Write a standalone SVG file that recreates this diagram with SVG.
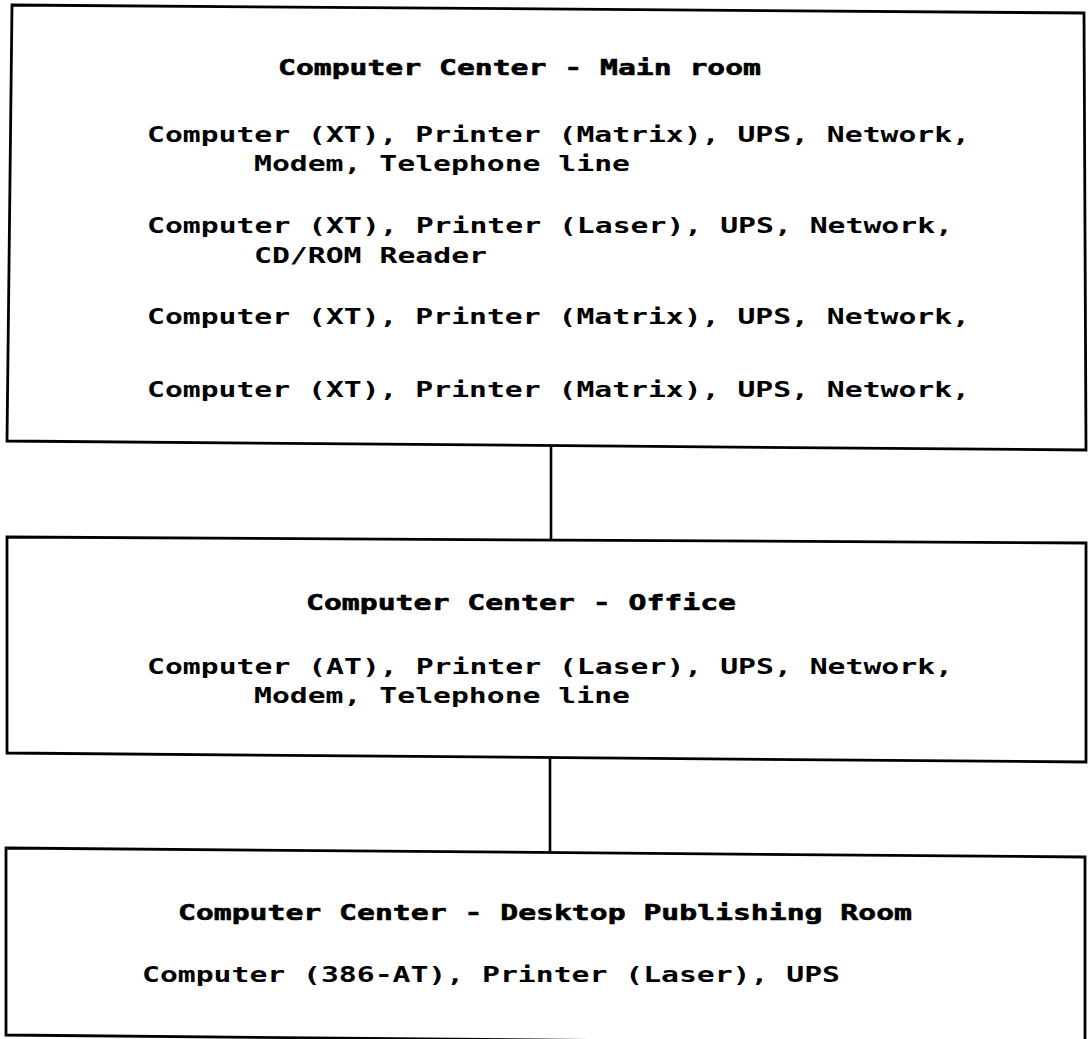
<svg xmlns="http://www.w3.org/2000/svg" width="1088" height="1039" viewBox="0 0 1088 1039">
  <style>
    .box { fill: none; stroke: #000; stroke-width: 2.8; stroke-linejoin: miter; }
    .link { fill: none; stroke: #000; stroke-width: 2.6; }
    text { font-family: "DejaVu Sans Mono", "Liberation Mono", monospace; font-size: 22px; font-weight: bold; fill: #000; }
    .head { stroke: #000; stroke-width: 0.6; }
  </style>
  <rect x="0" y="0" width="1088" height="1039" fill="#fff"/>

  <!-- connectors between rooms -->
  <g id="connectors">
    <line class="link" x1="551" y1="446" x2="551" y2="540"/>
    <line class="link" x1="550" y1="757" x2="550" y2="853"/>
  </g>

  <!-- printer-style type: fixed 17.9px cells, glyphs stretched to fill -->
  <g id="main-room">
    <path class="box" d="M12,5 L1084,13 L1086,450 L7,441 Z"/>
    <text class="head" x="278" y="75" textLength="483" lengthAdjust="spacingAndGlyphs">Computer Center - Main room</text>
    <text x="147" y="142" textLength="823" lengthAdjust="spacingAndGlyphs">Computer (XT), Printer (Matrix), UPS, Network,</text>
    <text x="254" y="171" textLength="376" lengthAdjust="spacingAndGlyphs">Modem, Telephone line</text>
    <text x="147" y="233" textLength="806" lengthAdjust="spacingAndGlyphs">Computer (XT), Printer (Laser), UPS, Network,</text>
    <text x="254" y="263" textLength="233" lengthAdjust="spacingAndGlyphs">CD/ROM Reader</text>
    <text x="147" y="324" textLength="823" lengthAdjust="spacingAndGlyphs">Computer (XT), Printer (Matrix), UPS, Network,</text>
    <text x="147" y="397" textLength="823" lengthAdjust="spacingAndGlyphs">Computer (XT), Printer (Matrix), UPS, Network,</text>
  </g>

  <g id="office">
    <path class="box" d="M7,537 L1086,543 L1086,762 L7,753 Z"/>
    <text class="head" x="306" y="610" textLength="430" lengthAdjust="spacingAndGlyphs">Computer Center - Office</text>
    <text x="147" y="674" textLength="806" lengthAdjust="spacingAndGlyphs">Computer (AT), Printer (Laser), UPS, Network,</text>
    <text x="254" y="703" textLength="376" lengthAdjust="spacingAndGlyphs">Modem, Telephone line</text>
  </g>

  <g id="desktop-publishing">
    <path class="box" d="M6,848 L1085,857 L1085,1045 L6,1035 Z"/>
    <text class="head" x="178" y="920" textLength="734" lengthAdjust="spacingAndGlyphs">Computer Center - Desktop Publishing Room</text>
    <text x="142" y="982" textLength="698" lengthAdjust="spacingAndGlyphs">Computer (386-AT), Printer (Laser), UPS</text>
  </g>
</svg>
